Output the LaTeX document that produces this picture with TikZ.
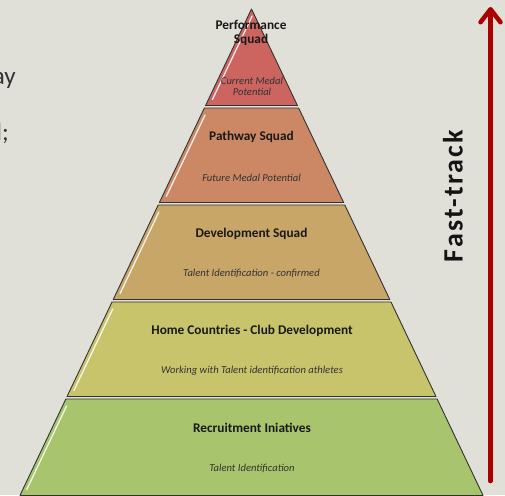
\documentclass[tikz,border=0pt]{standalone}
\usepackage{fontspec}
\setmainfont{Carlito}
\usetikzlibrary{arrows.meta}
\definecolor{bg}{RGB}{224,224,216}
\definecolor{cA}{RGB}{204,100,96}
\definecolor{cB}{RGB}{204,136,100}
\definecolor{cC}{RGB}{200,166,104}
\definecolor{cD}{RGB}{200,196,108}
\definecolor{cE}{RGB}{168,196,108}
\definecolor{arrowred}{RGB}{170,0,0}
\definecolor{edge}{RGB}{50,50,50}
\tikzset{
  layer/.style={draw=edge, line width=0.9pt, line join=round},
  gloss/.style={white, line width=1.3pt, line cap=round, opacity=0.85},
  title/.style={font=\fontsize{13.3}{14}\selectfont\bfseries, text=black!90, align=center, inner sep=0pt},
  sub/.style={font=\fontsize{10.6}{11.5}\selectfont\itshape, text=black!80, align=center, inner sep=0pt},
  side/.style={font=\fontsize{25}{28}\selectfont, text=black!80, inner sep=0pt},
}
\begin{document}
\begin{tikzpicture}[x=1pt,y=-1pt]
\useasboundingbox (0,0) rectangle (505,495);
\clip (0,0) rectangle (505,495);
\fill[bg] (0,0) rectangle (505,495);
% pyramid layers
\def\cx{251.5}
\def\ay{9}
\def\k{0.476}
\foreach \t/\b/\c [count=\i] in {9/105.5/cA,108/202.5/cB,205/299.5/cC,302/396.5/cD,399/495.5/cE}{
  \pgfmathsetmacro\ht{\k*(\t-\ay)}
  \pgfmathsetmacro\hb{\k*(\b-\ay)}
  \fill[\c] (\cx-\ht,\t) -- (\cx+\ht,\t) -- (\cx+\hb,\b) -- (\cx-\hb,\b) -- cycle;
  \draw[layer] (\cx-\ht,\t) -- (\cx+\ht,\t) -- (\cx+\hb,\b) -- (\cx-\hb,\b) -- cycle;
  \pgfmathsetmacro\gt{\k*(\t+7-\ay)-4}
  \pgfmathsetmacro\gb{\k*(\b-6-\ay)-4}
  \draw[gloss] (\cx-\gt,\t+7) -- (\cx-\gb,\b-6);
}
% texts
\node[title] (t1) at (251,33) {Performance\\Squad};
\node[sub] (s1) at (252,86.5) {Current Medal\\Potential};
\node[title] (t2) at (251.5,137) {Pathway Squad};
\node[sub] (s2) at (251.5,177.5) {Future Medal Potential};
\node[title] (t3) at (251.5,234) {Development Squad};
\node[sub] (s3) at (251.5,273) {Talent Identification - confirmed};
\node[title] (t4) at (252,331) {Home Countries - Club Development};
\node[sub] (s4) at (252,371) {Working with Talent identification athletes};
\node[title] (t5) at (252,428) {Recruitment Iniatives};
\node[sub] (s5) at (252,468.5) {Talent Identification};
% left cut-off texts
\node[side, anchor=base east] (la) at (16,84) {ay};
\node[side, anchor=base east] (lb) at (9,140) {l;};
% fast-track
\node[font=\fontsize{28}{30}\selectfont\bfseries\addfontfeature{LetterSpace=8}, text=black!92, rotate=90, inner sep=0pt] (ft) at (453,196) {Fast-track};
\coordinate (abot) at (490.5,481);
\coordinate (atop) at (490.5,7);
\draw[arrowred, line width=4.5pt, line cap=round, -{Straight Barb[length=13pt,width=20pt,line cap=round,line join=round]}] (abot) -- (atop);
\end{tikzpicture}
\end{document}
